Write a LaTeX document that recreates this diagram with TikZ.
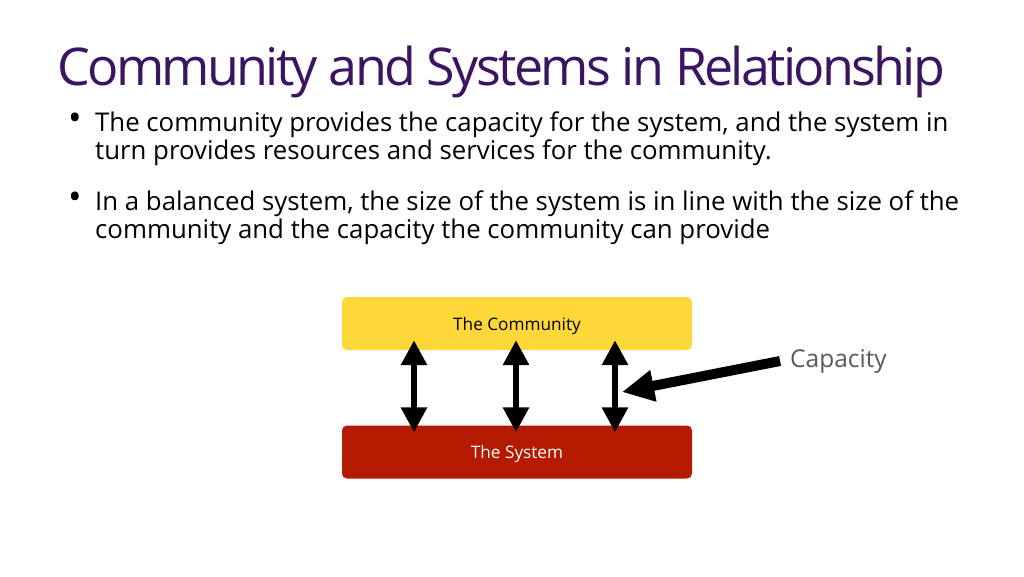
\documentclass[tikz,border=0pt]{standalone}
\usepackage{fontspec}
\setmainfont{Open Sans}
\newfontfamily\titlefont[LetterSpace=-5.2]{Open Sans}
\usetikzlibrary{arrows.meta,positioning}
\definecolor{titlepurple}{HTML}{3B1462}
\definecolor{commyellow}{HTML}{FDD838}
\definecolor{sysred}{HTML}{B31A00}
\definecolor{capgray}{HTML}{595959}

\begin{document}
\begin{tikzpicture}[x=1pt,y=-1pt,
    box/.style={rounded corners=5pt,minimum width=350pt,minimum height=53pt,inner sep=0pt,text depth=0pt,font=\fontsize{17.2}{20}\selectfont},
    bullettext/.style={anchor=north west,align=left,inner sep=0pt,font=\fontsize{25.8}{28}\selectfont},
    bulletdot/.style={inner sep=0pt,font=\fontsize{36}{36}\selectfont},
    updown/.style={{Triangle[width=25pt,length=25pt]}-{Triangle[width=25pt,length=25pt]},line width=6pt},
    pointer/.style={-{Triangle[width=30pt,length=32pt]},line width=10pt}]
  \useasboundingbox (0,0) rectangle (1024,576);

  \node[anchor=base west,inner sep=0pt,text=titlepurple,font=\titlefont\fontsize{52}{60}\selectfont] (title) at (57,85) {Community and Systems in Relationship};

  \node[bullettext] (b1) at (95,112) {The community provides the capacity for the system, and the system in\\turn provides resources and services for the community.};
  \node[bullettext] (b2) at (95,191) {In a balanced system, the size of the system is in line with the size of the\\community and the capacity the community can provide};
  \node[bulletdot] (dot1) at (75,122) {•};
  \node[bulletdot] (dot2) at (75,201) {•};

  \node[box,fill=commyellow,text=black] (community) at (517,323.5) {The Community};
  \node[box,fill=sysred,text=white] (system) at (517,452) {The System};

  \foreach \dx in {-103,-1,98}
    \draw[updown] ([xshift=\dx pt,yshift=10pt]community.south) -- ([xshift=\dx pt,yshift=-7pt]system.north);

  \node[anchor=west,inner sep=0pt,text=capgray,font=\fontsize{24.5}{28}\selectfont] (capacity) at (790,361) {Capacity};
  \coordinate (captip) at (622,392);
  \draw[pointer] ([xshift=-10pt]capacity.west) -- (captip);
\end{tikzpicture}
\end{document}
